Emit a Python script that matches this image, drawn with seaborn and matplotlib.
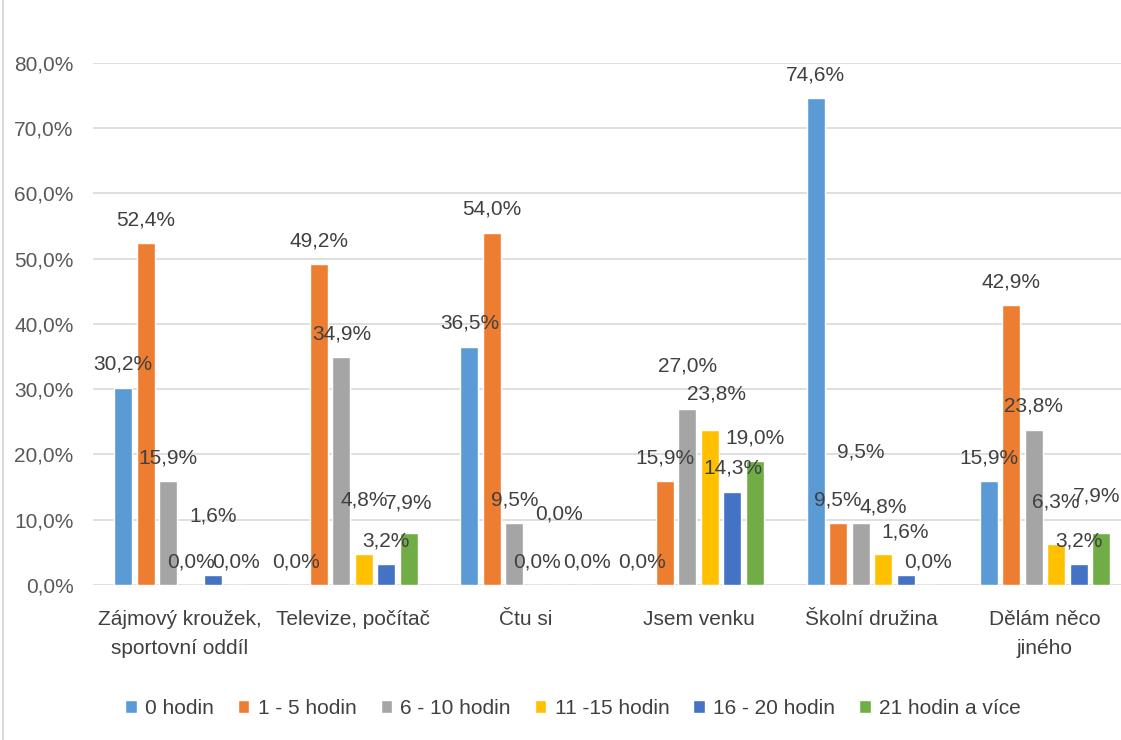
import matplotlib
matplotlib.use("Agg")
import matplotlib.pyplot as plt
import matplotlib.ticker as ticker
from matplotlib.lines import Line2D
import pandas as pd
import seaborn as sns

# Categories (activities) and series (hours per week)
categories = ["Zájmový kroužek,\nsportovní oddíl", "Televize, počítač", "Čtu si",
              "Jsem venku", "Školní družina", "Dělám něco\njiného"]
series = ["0 hodin", "1 - 5 hodin", "6 - 10 hodin", "11 -15 hodin", "16 - 20 hodin", "21 hodin a více"]

# Values in percent, one list per series
h0 = [30.2, 0.0, 36.5, 0.0, 74.6, 15.9]
h1_5 = [52.4, 49.2, 54.0, 15.9, 9.5, 42.9]
h6_10 = [15.9, 34.9, 9.5, 27.0, 9.5, 23.8]
h11_15 = [0.0, 4.8, 0.0, 23.8, 4.8, 6.3]
h16_20 = [1.6, 3.2, 0.0, 14.3, 1.6, 3.2]
h21 = [0.0, 7.9, 0.0, 19.0, 0.0, 7.9]

colors = ["#5B9BD5", "#ED7D31", "#A5A5A5", "#FFC000", "#4472C4", "#70AD47"]

# some data labels were dragged in the original chart: (series, category) -> (dx, dy) in points
label_nudge = {(4, 0): (0, 25), (3, 1): (0, 22), (5, 1): (0, 5),
               (4, 2): (0, 34), (5, 2): (4, 0),
               (2, 3): (0, 14), (3, 3): (5, 9),
               (2, 4): (0, 34), (3, 4): (0, 17), (4, 4): (0, 14),
               (3, 5): (0, 13), (5, 5): (-3, 10)}

all_values = [h0, h1_5, h6_10, h11_15, h16_20, h21]
rows = []
for s, vals in zip(series, all_values):
    for c, v in zip(categories, vals):
        rows.append({"kategorie": c, "serie": s, "hodnota": v})
df = pd.DataFrame(rows)

sns.set_theme(style="white")
plt.rcParams['font.family'] = ['Liberation Sans', 'DejaVu Sans']

fig = plt.figure(figsize=(11.21, 7.40), dpi=100)
ax = fig.add_axes([93 / 1121, 0.2095, (1121 - 93) / 1121, 0.7055])

sns.barplot(data=df, x="kategorie", y="hodnota", hue="serie", order=categories,
            hue_order=series, palette=colors, width=0.78, gap=0.2,
            saturation=1, errorbar=None, ax=ax, legend=True)

# Data labels
for si, (cont, vals) in enumerate(zip(ax.containers, all_values)):
    for ci, (bar, v) in enumerate(zip(cont, vals)):
        dx, dy = label_nudge.get((si, ci), (0, 0))
        ax.annotate(f"{v:.1f}".replace(".", ",") + "%",
                    xy=(bar.get_x() + bar.get_width() / 2, bar.get_height()),
                    xytext=(dx, 10 + dy), textcoords="offset points",
                    ha="center", va="bottom", fontsize=15, color="#404040")

ax.set_ylim(0, 80)
ax.set_xlim(-0.5, 5.44)
ax.yaxis.set_major_locator(ticker.MultipleLocator(10))
ax.yaxis.set_major_formatter(ticker.FuncFormatter(lambda v, p: f"{v:.1f}".replace(".", ",") + "%"))
ax.grid(axis="y", color="#D9D9D9", linewidth=1.2)
ax.set_axisbelow(True)
for sp in ax.spines.values():
    sp.set_visible(False)
ax.set_xlabel("")
ax.set_ylabel("")
ax.set_xticks(range(len(categories)))
ax.set_xticklabels(categories, linespacing=1.7)
ax.tick_params(axis="y", length=0, pad=14, labelsize=15, labelcolor="#595959")
ax.tick_params(axis="x", length=0, pad=18, labelsize=15, labelcolor="#404040")

handles, labels = ax.get_legend_handles_labels()
ax.legend_.remove()
fig.legend(handles, labels, loc="center", bbox_to_anchor=(573 / 1121, 0.043), ncol=6,
           frameon=False, fontsize=15, handlelength=0.55, handleheight=0.55,
           handletextpad=0.4, columnspacing=1.15, labelcolor="#404040")

# chart frame edge on the left
fig.add_artist(Line2D([3 / 1121, 3 / 1121], [0, 1], color="#D9D9D9", linewidth=1.5))

plt.savefig("out.png", dpi=100)
plt.close()
